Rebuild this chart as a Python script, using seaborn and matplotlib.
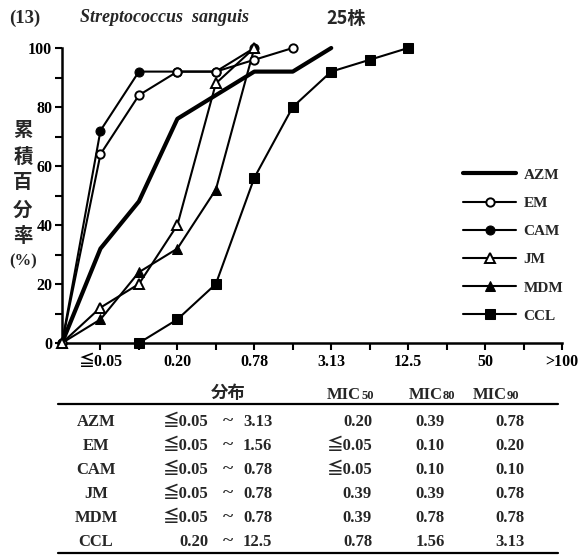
import matplotlib
matplotlib.use("Agg")
import matplotlib.pyplot as plt
import seaborn as sns
import pandas as pd
from matplotlib.lines import Line2D

# ---------------- data ----------------
concentrations = ['0', '≦0.05', '0.10', '0.20', '0.39', '0.78', '1.56',
                  '3.13', '6.25', '12.5', '25', '50', '100', '>100']
drugs = ['AZM', 'EM', 'CAM', 'JM', 'MDM', 'CCL']
# cumulative % by concentration index (None = not plotted)
AZM = [0, 32, 48, 76, 84, 92, 92, 100]
EM = [0, 64, 84, 92, 92, 96, 100]
CAM = [0, 72, 92, 92, 92, 100]
JM = [0, 12, 20, 40, 88, 100]
MDM = [0, 8, 24, 32, 52, 100]
CCL = [None, None, 0, 8, 20, 56, 80, 92, 96, 100]
series = {'AZM': AZM, 'EM': EM, 'CAM': CAM, 'JM': JM, 'MDM': MDM, 'CCL': CCL}

y_ticks = [0, 20, 40, 60, 80, 100]

title_num = '(13)'
title_species = 'Streptococcus  sanguis'
title_count = '25株'
ylabel_chars = ['累', '積', '百', '分', '率', '(%)']

table_header = ['分布', 'MIC50', 'MIC80', 'MIC90']
range_low = ['≦0.05', '≦0.05', '≦0.05', '≦0.05', '≦0.05', '0.20']
range_high = ['3.13', '1.56', '0.78', '0.78', '0.78', '12.5']
mic50 = ['0.20', '≦0.05', '≦0.05', '0.39', '0.39', '0.78']
mic80 = ['0.39', '0.10', '0.10', '0.39', '0.78', '1.56']
mic90 = ['0.78', '0.20', '0.10', '0.78', '0.78', '3.13']

# ---------------- style ----------------
sns.set_theme(style='ticks')
SERIF = ['Liberation Serif', 'DejaVu Serif', 'Noto Sans CJK JP']
CJK = ['Noto Sans CJK JP', 'Liberation Serif']
plt.rcParams['font.family'] = SERIF
plt.rcParams['font.weight'] = 'bold'

W, H = 587, 557
def fx(x):
    return x / W
def fy(y):
    return 1 - y / H

fig = plt.figure(figsize=(W / 100, H / 100), dpi=100)
fig.patch.set_facecolor('white')
ax = fig.add_axes([fx(62), fy(343), 500 / W, 295 / H])
ax.set_facecolor('white')

rows = []
for d in drugs:
    for i, v in enumerate(series[d]):
        if v is not None:
            rows.append({'drug': d, 'pos': i, 'pct': v})
df = pd.DataFrame(rows)

styles = {
    'AZM': dict(lw=3.0, marker=None, zorder=3),
    'EM': dict(lw=1.5, marker='o', ms=6, mfc='white', mec='black', mew=1.4, zorder=5),
    'CAM': dict(lw=1.5, marker='o', ms=6.5, mfc='black', mec='black', zorder=4),
    'JM': dict(lw=1.5, marker='^', ms=6.5, mfc='white', mec='black', mew=1.4, zorder=5),
    'MDM': dict(lw=1.5, marker='^', ms=6.5, mfc='black', mec='black', zorder=4),
    'CCL': dict(lw=1.5, marker='s', ms=6.5, mfc='black', mec='black', zorder=4),
}
for d in drugs:
    sub = df[df['drug'] == d]
    sns.lineplot(data=sub, x='pos', y='pct', ax=ax, color='black', label=d,
                 errorbar=None, sort=False, clip_on=False, **styles[d])

ax.set_xlim(0, len(concentrations) - 1)
ax.set_ylim(0, 100)
xt = list(range(1, len(concentrations)))
ax.set_xticks(xt)
ax.set_xticklabels([concentrations[i] if i % 2 == 1 else '' for i in xt])
ax.set_yticks(y_ticks)
ax.set_yticklabels([str(v) for v in y_ticks])
ax.set_yticks(list(range(10, 100, 20)), minor=True)
ax.tick_params(axis='both', which='both', direction='out', length=5, width=1.5,
               color='black', labelsize=11.5, labelcolor='black')
ax.tick_params(axis='x', pad=3)
ax.tick_params(axis='y', pad=2)
for lab in ax.get_xticklabels() + ax.get_yticklabels():
    lab.set_fontweight('bold')
    lab.set_family(SERIF)
ax.set_xlabel('')
ax.set_ylabel('')
for s in ['top', 'right']:
    ax.spines[s].set_visible(False)
for s in ['left', 'bottom']:
    ax.spines[s].set_linewidth(1.8)
    ax.spines[s].set_color('black')

handles, labels = ax.get_legend_handles_labels()
ax.legend(handles, labels, loc='upper left', bbox_to_anchor=(fx(463), fy(168)),
          bbox_transform=fig.transFigure, frameon=False, borderpad=0,
          borderaxespad=0, handlelength=3.5, handletextpad=0.45,
          labelspacing=0.95,
          prop=dict(family=SERIF, weight='bold', size=11))

# ---------------- title ----------------
fig.text(fx(9), fy(18), title_num, ha='left', va='center', fontsize=13.5,
         fontweight='bold', family=SERIF)
fig.text(fx(80), fy(18), title_species, ha='left', va='center', fontsize=13,
         fontweight='bold', fontstyle='italic', family=SERIF)
fig.text(fx(326), fy(18), title_count, ha='left', va='center', fontsize=13,
         fontweight='bold', family=CJK)

# ---------------- y label ----------------
for ch, yy in zip(ylabel_chars, [131, 157, 183, 210, 236, 261]):
    fam = CJK if ch != '(%)' else SERIF
    fig.text(fx(23), fy(yy), ch, ha='center', va='center',
             fontsize=14 if ch != '(%)' else 12, fontweight='bold', family=fam)

# ---------------- table ----------------
TFS = 12
fig.add_artist(Line2D([fx(58), fx(558)], [fy(404), fy(404)], color='black', lw=1.6))
fig.add_artist(Line2D([fx(58), fx(558)], [fy(553), fy(553)], color='black', lw=1.6))
fig.text(fx(228), fy(393), table_header[0], ha='center', va='center',
         fontsize=12.5, fontweight='bold', family=CJK)
for hdr, xc in zip(table_header[1:], [353, 435, 499]):
    fig.text(fx(xc + 8), fy(399), hdr[:3], ha='right', va='baseline',
             fontsize=TFS, fontweight='bold', family=SERIF)
    fig.text(fx(xc + 8), fy(399), hdr[3:], ha='left', va='baseline',
             fontsize=TFS - 3, fontweight='bold', family=SERIF)

row_y = [422, 446, 470, 494, 518, 542]
for i, d in enumerate(drugs):
    yy = fy(row_y[i])
    fig.text(fx(96), yy, d, ha='center', va='center', fontsize=TFS,
             fontweight='bold', family=SERIF)
    fig.text(fx(208), yy, range_low[i], ha='right', va='center', fontsize=TFS,
             fontweight='bold', family=SERIF)
    fig.text(fx(228), yy, '~', ha='center', va='center', fontsize=TFS + 2,
             fontweight='bold', family=SERIF)
    fig.text(fx(243), yy, range_high[i], ha='left', va='center', fontsize=TFS,
             fontweight='bold', family=SERIF)
    fig.text(fx(372), yy, mic50[i], ha='right', va='center', fontsize=TFS,
             fontweight='bold', family=SERIF)
    fig.text(fx(430), yy, mic80[i], ha='center', va='center', fontsize=TFS,
             fontweight='bold', family=SERIF)
    fig.text(fx(510), yy, mic90[i], ha='center', va='center', fontsize=TFS,
             fontweight='bold', family=SERIF)

fig.savefig('out.png', dpi=100, facecolor='white')
